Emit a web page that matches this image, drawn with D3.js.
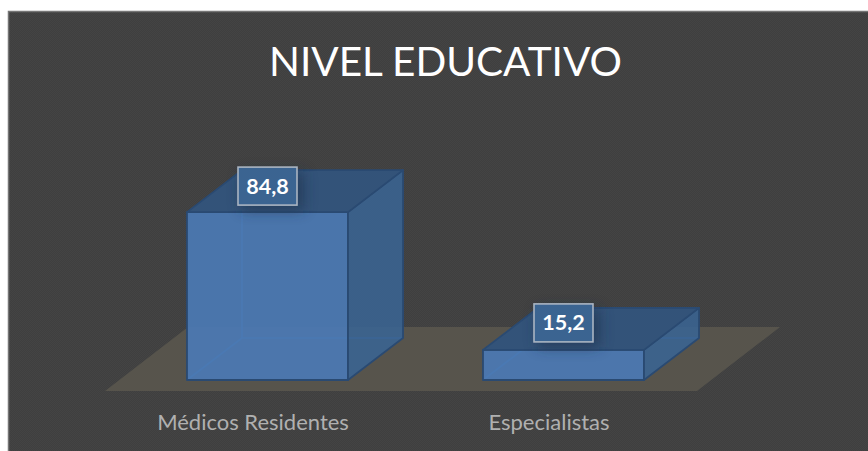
<!DOCTYPE html>
<html><head><meta charset="utf-8">
<script src="https://cdn.jsdelivr.net/npm/d3@7"></script>
<style>html,body{margin:0;padding:0;background:#fff}svg{display:block}</style>
</head><body><div id="c"></div>
<script>
const categories = ["Médicos Residentes", "Especialistas"];
const values = [84.8, 15.2];
const valueLabels = ["84,8", "15,2"];
const chartTitle = "NIVEL EDUCATIVO";

const W = 868, H = 451;
const font = "Lato, 'Open Sans', sans-serif";
const floorFront = 391, floorDx = 83, floorDy = 64;
const depthDx = 55, depthDy = 42;
const shiftX = 14.5, shiftY = 11;

const x = d3.scaleBand().domain(categories).range([105, 697]).paddingInner(0.456).paddingOuter(0.228);
const y = d3.scaleLinear().domain([0, 100]).range([floorFront - shiftY, floorFront - shiftY - 198]);

const svg = d3.select("#c").append("svg").attr("width", W).attr("height", H);
const defs = svg.append("defs");
const pat = defs.append("pattern").attr("id", "dots").attr("width", 2).attr("height", 2).attr("patternUnits", "userSpaceOnUse");
pat.append("rect").attr("width", 2).attr("height", 2).attr("fill", "#3f3f3f");
pat.append("rect").attr("width", 1).attr("height", 1).attr("fill", "#444444");
pat.append("rect").attr("x", 1).attr("y", 1).attr("width", 1).attr("height", 1).attr("fill", "#444444");
const blur = defs.append("filter").attr("id", "soft").attr("x", "-50%").attr("y", "-50%").attr("width", "200%").attr("height", "200%");
blur.append("feGaussianBlur").attr("stdDeviation", 7);

svg.append("rect").attr("x", 8.5).attr("y", 11.5).attr("width", W).attr("height", H)
  .attr("fill", "url(#dots)").attr("stroke", "#767676").attr("stroke-width", 1.5);

const line = d3.line();
svg.append("path")
  .attr("d", line([[105, floorFront], [697, floorFront], [697 + floorDx, floorFront - floorDy], [105 + floorDx, floorFront - floorDy]]) + "Z")
  .attr("fill", "#57544c");

const bars = svg.selectAll("g.bar").data(categories.map((c, i) => ({c, v: values[i], t: valueLabels[i]})))
  .join("g").attr("class", "bar");
const edge = "#2a4a72";

bars.each(function (d) {
  const g = d3.select(this);
  const l = x(d.c) + shiftX, r = l + x.bandwidth(), b = y(0), t = y(d.v);
  const poly = (pts, fill, op, st) => g.append("path").attr("d", line(pts) + "Z")
    .attr("fill", fill).attr("fill-opacity", op).attr("stroke", st || edge).attr("stroke-width", 1.8).attr("stroke-linejoin", "round");
  const dx = depthDx, dy = depthDy;
  // hidden back faces
  g.append("path").attr("d", line([[l + dx, t - dy], [l + dx, b - dy], [r + dx, b - dy]]))
    .attr("fill", "none").attr("stroke", "#3f6ea8").attr("stroke-width", 1.6);
  g.append("path").attr("d", line([[l, b], [l + dx, b - dy]]))
    .attr("fill", "none").attr("stroke", "#3f6ea8").attr("stroke-width", 1.6);
  poly([[l, t], [r, t], [r, b], [l, b]], "#4b79b4", 0.92);
  poly([[r, t], [r + dx, t - dy], [r + dx, b - dy], [r, b]], "#3a6493", 0.88);
  poly([[l, t], [l + dx, t - dy], [r + dx, t - dy], [r, t]], "#335379", 1);
  // label shadow
  const cx = (l + r) / 2, cy = t - (d.v > 50 ? 26 : 27);
  g.append("rect").attr("x", cx - 26).attr("y", cy - 14).attr("width", 62).attr("height", 38)
    .attr("fill", "#1c2f48").attr("opacity", 0.6).attr("filter", "url(#soft)");
  g.append("rect").attr("x", cx - 29.5).attr("y", cy - 19).attr("width", 59).attr("height", 38)
    .attr("fill", "#3b6491").attr("stroke", "#aab5c2").attr("stroke-width", 1.6);
  g.append("text").attr("x", cx).attr("y", cy + 7.5).attr("text-anchor", "middle")
    .attr("font-family", font).attr("font-weight", 700).attr("font-size", 21.5).attr("fill", "#fff").text(d.t);
});

const axis = d3.axisBottom(x).tickSize(0).tickPadding(0);
const ax = svg.append("g").attr("transform", `translate(0,${floorFront + 23})`).call(axis);
ax.select(".domain").remove();
ax.selectAll("text").attr("font-family", font).attr("font-size", 22).attr("fill", "#b0b0b0");

svg.append("text").attr("x", 445.5).attr("y", 76).attr("text-anchor", "middle")
  .attr("font-family", font).attr("font-size", 40.5).attr("fill", "#fff").text(chartTitle);
</script></body></html>
